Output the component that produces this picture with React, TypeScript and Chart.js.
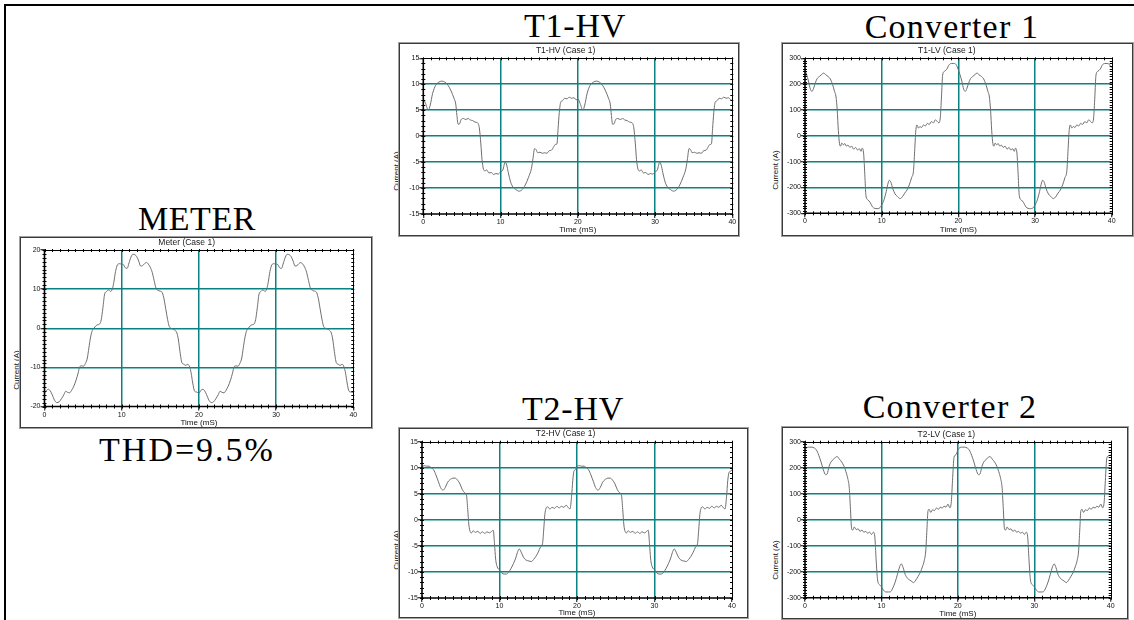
import { useEffect, useRef } from "react";
import { Chart, registerables } from "chart.js";

Chart.register(...registerables);

const SANS = '"Liberation Sans", Arial, Helvetica, sans-serif';
const SERIF = '"Liberation Serif", "Times New Roman", serif';
const TEAL = "#0b8282";
const TRACE = "#6e6e6e";

type Pt = [number, number];

// ---- axis definitions ----
const TIME_RANGE = [0, 40];
const TIME_STEP = 10;
const TIME_MINOR = 1;
const METER_RANGE = [-20, 20, 10, 1];
const HV_RANGE = [-15, 15, 5, 1];
const LV_RANGE = [-300, 300, 100, 10];

// ---- waveforms: [time (mS), current (A)] ----
const METER_CURRENT: Pt[] = [
  [0, -16.6], [0.25, -15.9], [0.5, -15.6], [0.75, -16.0], [1.0, -17.0], [1.3, -18.4], [1.6, -19.0], [1.9, -18.8], [2.2, -18.0], [2.5, -17.0], [2.75, -16.1], [3.0, -16.4], [3.25, -16.5], [3.5, -15.9], [3.8, -14.8], [4.1, -13.2], [4.35, -11.5], [4.55, -9.9], [4.8, -9.6], [5.05, -9.7], [5.3, -9.0], [5.55, -7.6], [5.75, -5.0], [5.95, -2.5], [6.15, -0.8], [6.4, 0.0], [6.65, 0.6], [6.9, 0.9], [7.15, 1.1], [7.35, 2.2], [7.55, 5.0], [7.8, 8.8], [8.05, 9.4], [8.3, 9.8], [8.55, 9.4], [8.8, 10.1], [9.0, 12.0], [9.2, 14.5], [9.45, 16.2], [9.7, 16.5], [9.95, 16.4], [10.2, 16.3], [10.45, 15.5], [10.7, 15.3], [10.95, 16.7], [11.2, 18.2], [11.45, 18.9], [11.7, 18.8], [11.95, 18.3], [12.2, 17.2], [12.45, 15.9], [12.7, 16.0], [12.95, 16.5], [13.2, 16.8], [13.45, 16.4], [13.7, 15.6], [13.95, 14.3], [14.2, 12.2], [14.45, 10.2], [14.7, 9.7], [14.95, 9.5], [15.2, 9.3], [15.45, 7.8], [15.7, 5.0], [15.95, 2.2], [16.15, 0.5], [16.4, 0.0], [16.65, -0.2], [16.9, -0.5], [17.15, -1.2], [17.35, -3.0], [17.55, -6.0], [17.8, -8.8], [18.05, -9.2], [18.3, -9.5], [18.55, -9.2], [18.8, -9.9], [19.0, -11.5], [19.2, -14.0], [19.45, -16.1], [19.7, -16.3],
  [20.0, -16.6], [20.25, -15.9], [20.5, -15.6], [20.75, -16.0], [21.0, -17.0], [21.3, -18.4], [21.6, -19.0], [21.9, -18.8], [22.2, -18.0], [22.5, -17.0], [22.75, -16.1], [23.0, -16.4], [23.25, -16.5], [23.5, -15.9], [23.8, -14.8], [24.1, -13.2], [24.35, -11.5], [24.55, -9.9], [24.8, -9.6], [25.05, -9.7], [25.3, -9.0], [25.55, -7.6], [25.75, -5.0], [25.95, -2.5], [26.15, -0.8], [26.4, 0.0], [26.65, 0.6], [26.9, 0.9], [27.15, 1.1], [27.35, 2.2], [27.55, 5.0], [27.8, 8.8], [28.05, 9.4], [28.3, 9.8], [28.55, 9.4], [28.8, 10.1], [29.0, 12.0], [29.2, 14.5], [29.45, 16.2], [29.7, 16.5], [29.95, 16.4], [30.2, 16.3], [30.45, 15.5], [30.7, 15.3], [30.95, 16.7], [31.2, 18.2], [31.45, 18.9], [31.7, 18.8], [31.95, 18.3], [32.2, 17.2], [32.45, 15.9], [32.7, 16.0], [32.95, 16.5], [33.2, 16.8], [33.45, 16.4], [33.7, 15.6], [33.95, 14.3], [34.2, 12.2], [34.45, 10.2], [34.7, 9.7], [34.95, 9.5], [35.2, 9.3], [35.45, 7.8], [35.7, 5.0], [35.95, 2.2], [36.15, 0.5], [36.4, 0.0], [36.65, -0.2], [36.9, -0.5], [37.15, -1.2], [37.35, -3.0], [37.55, -6.0], [37.8, -8.8], [38.05, -9.2], [38.3, -9.5], [38.55, -9.2], [38.8, -9.9], [39.0, -11.5], [39.2, -14.0], [39.45, -16.1], [39.7, -16.3], [40.0, -16.4],
];

const T1HV_CURRENT: Pt[] = [
  [0, 7.2], [0.3, 6.3], [0.65, 5.0], [0.9, 6.0], [1.2, 8.2], [1.6, 9.8], [2.0, 10.4], [2.4, 10.6], [2.8, 10.4], [3.2, 9.8], [3.6, 8.7], [4.0, 7.2], [4.2, 6.2], [4.35, 4.0], [4.5, 2.3], [4.7, 2.4], [4.9, 3.2], [5.2, 3.4], [5.5, 3.2], [5.8, 3.4], [6.1, 3.1], [6.4, 3.0], [6.7, 2.7], [7.0, 2.6], [7.25, 1.6], [7.45, -1.5], [7.6, -4.5], [7.8, -6.4], [8.0, -6.7], [8.2, -6.5], [8.5, -7.1], [8.8, -7.0], [9.1, -7.4], [9.4, -7.2], [9.7, -7.3], [10.0, -6.9], [10.3, -6.5], [10.6, -5.0], [10.8, -5.6], [11.0, -7.0], [11.3, -8.8], [11.6, -9.8], [12.0, -10.3], [12.4, -10.6], [12.8, -10.3], [13.2, -9.4], [13.6, -8.0], [14.0, -6.2], [14.2, -4.3], [14.4, -2.4], [14.6, -2.6], [14.8, -3.2], [15.1, -3.1], [15.4, -3.3], [15.7, -3.2], [16.0, -3.3], [16.3, -2.8], [16.6, -2.7], [16.9, -2.0], [17.1, -1.6], [17.3, -1.5], [17.45, 1.5], [17.6, 4.5], [17.8, 6.6], [18.0, 6.8], [18.3, 7.3], [18.6, 7.2], [18.9, 7.5], [19.2, 7.3], [19.5, 7.4], [19.8, 7.0],
  [20.0, 7.2], [20.3, 6.3], [20.65, 5.0], [20.9, 6.0], [21.2, 8.2], [21.6, 9.8], [22.0, 10.4], [22.4, 10.6], [22.8, 10.4], [23.2, 9.8], [23.6, 8.7], [24.0, 7.2], [24.2, 6.2], [24.35, 4.0], [24.5, 2.3], [24.7, 2.4], [24.9, 3.2], [25.2, 3.4], [25.5, 3.2], [25.8, 3.4], [26.1, 3.1], [26.4, 3.0], [26.7, 2.7], [27.0, 2.6], [27.25, 1.6], [27.45, -1.5], [27.6, -4.5], [27.8, -6.4], [28.0, -6.7], [28.2, -6.5], [28.5, -7.1], [28.8, -7.0], [29.1, -7.4], [29.4, -7.2], [29.7, -7.3], [30.0, -6.9], [30.3, -6.5], [30.6, -5.0], [30.8, -5.6], [31.0, -7.0], [31.3, -8.8], [31.6, -9.8], [32.0, -10.3], [32.4, -10.6], [32.8, -10.3], [33.2, -9.4], [33.6, -8.0], [34.0, -6.2], [34.2, -4.3], [34.4, -2.4], [34.6, -2.6], [34.8, -3.2], [35.1, -3.1], [35.4, -3.3], [35.7, -3.2], [36.0, -3.3], [36.3, -2.8], [36.6, -2.7], [36.9, -2.0], [37.1, -1.6], [37.3, -1.5], [37.45, 1.5], [37.6, 4.5], [37.8, 6.6], [38.0, 6.8], [38.3, 7.3], [38.6, 7.2], [38.9, 7.5], [39.2, 7.3], [39.5, 7.4], [39.8, 7.0], [40.0, 6.9],
];

const T2HV_CURRENT: Pt[] = [
  [0, 10.2], [0.3, 10.4], [0.6, 10.3], [0.9, 10.3], [1.2, 10.0], [1.5, 9.6], [1.8, 8.6], [2.1, 7.4], [2.4, 6.2], [2.7, 5.7], [3.0, 6.2], [3.3, 7.2], [3.6, 7.7], [4.0, 8.0], [4.3, 8.0], [4.6, 7.6], [4.9, 6.9], [5.2, 5.8], [5.5, 5.2], [5.75, 4.6], [5.9, 2.0], [6.05, -1.0], [6.2, -2.2], [6.4, -2.5], [6.6, -2.1], [6.9, -2.4], [7.2, -2.2], [7.5, -2.6], [7.8, -2.3], [8.1, -2.6], [8.4, -2.3], [8.7, -2.5], [9.0, -2.2], [9.2, -2.0], [9.35, -4.5], [9.5, -7.5], [9.7, -9.0], [10.0, -9.6], [10.3, -10.2], [10.6, -10.4], [10.9, -10.4], [11.2, -10.0], [11.5, -9.3], [11.8, -8.4], [12.1, -7.3], [12.3, -6.3], [12.55, -5.6], [12.8, -6.2], [13.1, -7.2], [13.4, -7.7], [13.8, -7.9], [14.1, -8.0], [14.4, -7.6], [14.7, -7.0], [15.0, -6.2], [15.3, -5.2], [15.55, -4.6], [15.7, -2.0], [15.85, 1.0], [16.0, 2.2], [16.2, 2.5], [16.5, 2.1], [16.8, 2.4], [17.1, 2.2], [17.4, 2.6], [17.7, 2.3], [18.0, 2.6], [18.3, 2.4], [18.6, 2.8], [18.9, 2.3], [19.1, 2.1], [19.3, 4.5], [19.45, 7.5], [19.6, 9.3], [19.85, 9.7],
  [20.0, 10.2], [20.3, 10.4], [20.6, 10.3], [20.9, 10.3], [21.2, 10.0], [21.5, 9.6], [21.8, 8.6], [22.1, 7.4], [22.4, 6.2], [22.7, 5.7], [23.0, 6.2], [23.3, 7.2], [23.6, 7.7], [24.0, 8.0], [24.3, 8.0], [24.6, 7.6], [24.9, 6.9], [25.2, 5.8], [25.5, 5.2], [25.75, 4.6], [25.9, 2.0], [26.05, -1.0], [26.2, -2.2], [26.4, -2.5], [26.6, -2.1], [26.9, -2.4], [27.2, -2.2], [27.5, -2.6], [27.8, -2.3], [28.1, -2.6], [28.4, -2.3], [28.7, -2.5], [29.0, -2.2], [29.2, -2.0], [29.35, -4.5], [29.5, -7.5], [29.7, -9.0], [30.0, -9.6], [30.3, -10.2], [30.6, -10.4], [30.9, -10.4], [31.2, -10.0], [31.5, -9.3], [31.8, -8.4], [32.1, -7.3], [32.3, -6.3], [32.55, -5.6], [32.8, -6.2], [33.1, -7.2], [33.4, -7.7], [33.8, -7.9], [34.1, -8.0], [34.4, -7.6], [34.7, -7.0], [35.0, -6.2], [35.3, -5.2], [35.55, -4.6], [35.7, -2.0], [35.85, 1.0], [36.0, 2.2], [36.2, 2.5], [36.5, 2.1], [36.8, 2.4], [37.1, 2.2], [37.4, 2.6], [37.7, 2.3], [38.0, 2.6], [38.3, 2.4], [38.6, 2.8], [38.9, 2.3], [39.1, 2.1], [39.3, 4.5], [39.45, 7.5], [39.6, 9.0], [39.85, 9.4], [40.0, 9.6],
];

const T1LV_CURRENT: Pt[] = [
  [0, 255], [0.2, 238], [0.45, 212], [0.7, 180], [0.9, 172], [1.1, 182], [1.35, 205], [1.6, 222], [1.9, 230], [2.2, 238], [2.45, 243], [2.7, 236], [3.0, 230], [3.3, 220], [3.6, 198], [3.85, 172], [4.05, 150], [4.2, 100], [4.35, 20], [4.5, -30], [4.65, -40], [4.8, -28], [5.0, -35], [5.2, -30], [5.4, -40], [5.6, -36], [5.85, -45], [6.1, -40], [6.35, -52], [6.6, -45], [6.85, -55], [7.1, -50], [7.3, -60], [7.45, -48], [7.65, -70], [7.8, -150], [7.95, -232], [8.2, -248], [8.5, -258], [8.8, -275], [9.1, -281], [9.4, -282], [9.7, -280], [10.0, -268], [10.3, -248], [10.6, -215], [10.85, -182], [11.0, -172], [11.2, -180], [11.45, -205], [11.75, -225], [12.05, -235], [12.4, -243], [12.7, -236], [13.0, -222], [13.3, -210], [13.6, -190], [13.9, -162], [14.15, -135], [14.3, -60], [14.45, 20], [14.6, 42], [14.8, 30], [15.0, 36], [15.2, 32], [15.45, 42], [15.7, 38], [15.95, 48], [16.2, 44], [16.5, 55], [16.75, 50], [17.0, 62], [17.25, 55], [17.45, 50], [17.65, 72], [17.8, 150], [17.95, 235], [18.2, 250], [18.5, 258], [18.8, 275], [19.1, 280], [19.4, 280], [19.7, 276],
  [20.0, 255], [20.2, 238], [20.45, 212], [20.7, 180], [20.9, 172], [21.1, 182], [21.35, 205], [21.6, 222], [21.9, 230], [22.2, 238], [22.45, 243], [22.7, 236], [23.0, 230], [23.3, 220], [23.6, 198], [23.85, 172], [24.05, 150], [24.2, 100], [24.35, 20], [24.5, -30], [24.65, -40], [24.8, -28], [25.0, -35], [25.2, -30], [25.4, -40], [25.6, -36], [25.85, -45], [26.1, -40], [26.35, -52], [26.6, -45], [26.85, -55], [27.1, -50], [27.3, -60], [27.45, -48], [27.65, -70], [27.8, -150], [27.95, -232], [28.2, -248], [28.5, -258], [28.8, -275], [29.1, -281], [29.4, -282], [29.7, -280], [30.0, -268], [30.3, -248], [30.6, -215], [30.85, -182], [31.0, -172], [31.2, -180], [31.45, -205], [31.75, -225], [32.05, -235], [32.4, -243], [32.7, -236], [33.0, -222], [33.3, -210], [33.6, -190], [33.9, -162], [34.15, -135], [34.3, -60], [34.45, 20], [34.6, 42], [34.8, 30], [35.0, 36], [35.2, 32], [35.45, 42], [35.7, 38], [35.95, 48], [36.2, 44], [36.5, 55], [36.75, 50], [37.0, 62], [37.25, 55], [37.45, 50], [37.65, 72], [37.8, 150], [37.95, 235], [38.2, 250], [38.5, 258], [38.8, 275], [39.1, 280], [39.4, 280], [39.7, 276], [40.0, 262],
];

const T2LV_CURRENT: Pt[] = [
  [0, 268], [0.3, 278], [0.6, 279], [0.9, 279], [1.2, 276], [1.5, 268], [1.8, 248], [2.1, 222], [2.4, 192], [2.7, 173], [2.9, 176], [3.15, 205], [3.4, 222], [3.7, 232], [4.0, 240], [4.2, 243], [4.5, 233], [4.8, 222], [5.1, 206], [5.35, 185], [5.6, 158], [5.8, 120], [5.95, 40], [6.1, -35], [6.25, -40], [6.45, -28], [6.7, -38], [6.95, -35], [7.2, -45], [7.45, -40], [7.7, -48], [7.95, -45], [8.2, -52], [8.45, -48], [8.7, -57], [8.95, -48], [9.15, -70], [9.3, -150], [9.5, -232], [9.75, -250], [10.0, -258], [10.3, -272], [10.6, -278], [10.9, -278], [11.2, -277], [11.5, -262], [11.8, -240], [12.1, -210], [12.4, -180], [12.6, -170], [12.85, -185], [13.1, -210], [13.4, -225], [13.7, -232], [14.0, -238], [14.2, -242], [14.5, -232], [14.8, -218], [15.1, -202], [15.35, -182], [15.6, -158], [15.8, -120], [15.95, -40], [16.1, 35], [16.25, 40], [16.45, 28], [16.7, 38], [16.95, 35], [17.2, 45], [17.45, 40], [17.7, 48], [17.95, 45], [18.2, 52], [18.45, 48], [18.7, 60], [18.95, 46], [19.15, 70], [19.3, 150], [19.5, 240], [19.75, 250],
  [20.0, 268], [20.3, 278], [20.6, 279], [20.9, 279], [21.2, 276], [21.5, 268], [21.8, 248], [22.1, 222], [22.4, 192], [22.7, 173], [22.9, 176], [23.15, 205], [23.4, 222], [23.7, 232], [24.0, 240], [24.2, 243], [24.5, 233], [24.8, 222], [25.1, 206], [25.35, 185], [25.6, 158], [25.8, 120], [25.95, 40], [26.1, -35], [26.25, -40], [26.45, -28], [26.7, -38], [26.95, -35], [27.2, -45], [27.45, -40], [27.7, -48], [27.95, -45], [28.2, -52], [28.45, -48], [28.7, -57], [28.95, -48], [29.15, -70], [29.3, -150], [29.5, -232], [29.75, -250], [30.0, -258], [30.3, -272], [30.6, -278], [30.9, -278], [31.2, -277], [31.5, -262], [31.8, -240], [32.1, -210], [32.4, -180], [32.6, -170], [32.85, -185], [33.1, -210], [33.4, -225], [33.7, -232], [34.0, -238], [34.2, -242], [34.5, -232], [34.8, -218], [35.1, -202], [35.35, -182], [35.6, -158], [35.8, -120], [35.95, -40], [36.1, 35], [36.25, 40], [36.45, 28], [36.7, 38], [36.95, 35], [37.2, 45], [37.45, 40], [37.7, 48], [37.95, 45], [38.2, 52], [38.45, 48], [38.7, 60], [38.95, 46], [39.15, 70], [39.3, 150], [39.5, 238], [39.75, 246], [40.0, 250],
];

// ---- layout of each scope panel (pixels) ----
type Box = {
  left: number; top: number; width: number; height: number;
  padL: number; padR: number; padT: number; padB: number;
  titleC: number; xTitleB: number;
};

const BOX_METER: Box = { left: 20, top: 237, width: 352, height: 191, padL: 24.5, padR: 18.7, padT: 13, padB: 21.5, titleC: 5.7, xTitleB: 5.3 };
const BOX_T1HV: Box = { left: 399, top: 43, width: 340, height: 193, padL: 24.3, padR: 6.7, padT: 15.3, padB: 22, titleC: 7.7, xTitleB: 6 };
const BOX_T2HV: Box = { left: 399, top: 428, width: 349, height: 190, padL: 23, padR: 16, padT: 13.7, padB: 20, titleC: 6, xTitleB: 4.8 };
const BOX_T1LV: Box = { left: 782, top: 43, width: 351, height: 193, padL: 23, padR: 21.3, padT: 15.3, padB: 22.7, titleC: 7.7, xTitleB: 6 };
const BOX_T2LV: Box = { left: 782, top: 427, width: 346, height: 192, padL: 23, padR: 17.3, padT: 14.7, padB: 21.3, titleC: 7.3, xTitleB: 5.7 };

function makeFramePlugin(yMinor: number) {
  return {
    id: "scopeFrame",
    afterDatasetsDraw(chart: any) {
      const { ctx, chartArea, scales } = chart;
      const { left, right, top, bottom } = chartArea;
      const xs = scales.x;
      const ys = scales.y;
      ctx.save();
      ctx.strokeStyle = "#000";
      ctx.lineWidth = 1;
      ctx.beginPath();
      for (let v = xs.min; v <= xs.max + 1e-9; v += TIME_MINOR) {
        const px = Math.round(xs.getPixelForValue(v)) + 0.5;
        ctx.moveTo(px, bottom - 2);
        ctx.lineTo(px, bottom + 2);
        ctx.moveTo(px, top - 1);
        ctx.lineTo(px, top + 2);
      }
      for (let v = ys.min; v <= ys.max + 1e-9; v += yMinor) {
        const py = Math.round(ys.getPixelForValue(v)) + 0.5;
        ctx.moveTo(left - 2, py);
        ctx.lineTo(left + 2, py);
        ctx.moveTo(right - 2, py);
        ctx.lineTo(right + 1, py);
      }
      ctx.stroke();
      const T = Math.round(top) + 0.5;
      const R = Math.round(right) + 0.5;
      ctx.beginPath();
      ctx.moveTo(left, T);
      ctx.lineTo(right, T);
      ctx.moveTo(R, top);
      ctx.lineTo(R, bottom);
      ctx.stroke();
      ctx.lineWidth = 1.6;
      ctx.beginPath();
      ctx.moveTo(left, top);
      ctx.lineTo(left, bottom);
      ctx.lineTo(right, bottom);
      ctx.stroke();
      ctx.restore();
    },
  };
}

function ScopeChart(props: { title: string; points: Pt[]; range: number[]; box: Box }) {
  const { title, points, range, box } = props;
  const ref = useRef<HTMLCanvasElement>(null);

  useEffect(() => {
    const [yMin, yMax, yStep, yMinor] = range;
    const tPadTop = box.titleC - 5.1;
    const tPadBottom = Math.max(0, box.padT - 10.2 - tPadTop);
    const gridColor = (lo: number, hi: number) => (c: any) =>
      c.tick && (c.tick.value === lo || c.tick.value === hi) ? "rgba(0,0,0,0)" : TEAL;

    const chart = new Chart(ref.current as HTMLCanvasElement, {
      type: "line",
      data: {
        datasets: [
          {
            data: points.map(([x, y]) => ({ x, y })),
            borderColor: TRACE,
            borderWidth: 1,
            pointRadius: 0,
            fill: false,
            cubicInterpolationMode: "monotone",
          } as any,
        ],
      },
      options: {
        animation: false,
        responsive: false,
        maintainAspectRatio: false,
        events: [],
        layout: { padding: { left: 0, right: box.padR, top: 0, bottom: 0 } },
        plugins: {
          legend: { display: false },
          tooltip: { enabled: false },
          title: {
            display: true,
            text: title,
            color: "#1a1a1a",
            font: { family: SANS, size: 8.5, weight: "normal", lineHeight: 1.2 },
            padding: { top: tPadTop, bottom: tPadBottom },
          },
        },
        scales: {
          x: {
            type: "linear",
            min: TIME_RANGE[0],
            max: TIME_RANGE[1],
            ticks: { stepSize: TIME_STEP, color: "#111", font: { family: SANS, size: 7 }, padding: 0, maxRotation: 0, autoSkip: false },
            grid: { color: gridColor(TIME_RANGE[0], TIME_RANGE[1]), lineWidth: 1.5, drawTicks: true, tickLength: 4, tickColor: "#000", tickWidth: 1 },
            border: { display: false },
            title: { display: true, text: "Time (mS)", color: "#111", font: { family: SANS, size: 8 }, padding: { top: 0, bottom: Math.max(0, box.xTitleB - 4.8) } },
            afterFit: (s: any) => {
              s.height = box.padB;
              s.paddingLeft = 0;
              s.paddingRight = 0;
            },
          },
          y: {
            type: "linear",
            min: yMin,
            max: yMax,
            ticks: { stepSize: yStep, color: "#111", font: { family: SANS, size: 7 }, padding: 0, autoSkip: false },
            grid: { color: gridColor(yMin, yMax), lineWidth: 1.5, drawTicks: true, tickLength: 4, tickColor: "#000", tickWidth: 1 },
            border: { display: false },
            afterFit: (s: any) => {
              s.width = box.padL;
              s.paddingTop = 0;
              s.paddingBottom = 0;
            },
          },
        },
      } as any,
      plugins: [makeFramePlugin(yMinor)],
    });
    return () => chart.destroy();
  }, []);

  return (
    <>
      <div
        style={{
          position: "absolute",
          left: box.left,
          top: box.top,
          width: box.width,
          height: box.height,
          boxSizing: "border-box",
          border: "1px solid #3a3a3a",
          boxShadow: "0 0 0 1px #a0a0a0",
          background: "#fff",
        }}
      />
      <canvas
        ref={ref}
        width={box.width}
        height={box.height}
        style={{ position: "absolute", left: box.left, top: box.top, width: box.width, height: box.height }}
      />
    </>
  );
}

function Heading(props: { text: string; cx: number; cy: number; spacing?: number }) {
  return (
    <div
      style={{
        position: "absolute",
        left: props.cx - 200,
        top: props.cy - 17,
        width: 400,
        textAlign: "center",
        fontFamily: SERIF,
        fontSize: 34,
        lineHeight: "34px",
        letterSpacing: props.spacing ? `${props.spacing}px` : undefined,
        color: "#000",
        whiteSpace: "nowrap",
      }}
    >
      {props.text}
    </div>
  );
}

function YTitle(props: { cx: number; cy: number }) {
  return (
    <div
      style={{
        position: "absolute",
        left: props.cx,
        top: props.cy,
        transform: "translate(-50%, -50%) rotate(-90deg)",
        fontFamily: SANS,
        fontSize: 8,
        lineHeight: "9px",
        color: "#111",
        whiteSpace: "nowrap",
      }}
    >
      Current (A)
    </div>
  );
}

export default function App() {
  return (
    <div style={{ position: "fixed", left: 0, top: 0, width: 1134, height: 620, background: "#fff", overflow: "hidden" }}>
      <div style={{ position: "absolute", left: 4, top: 4, width: 1200, height: 700, borderLeft: "2px solid #000", borderTop: "2px solid #000" }} />

      <Heading text="T1-HV" cx={575} cy={26} spacing={0.8} />
      <Heading text="Converter 1" cx={952} cy={27} spacing={1.2} />
      <Heading text="METER" cx={197} cy={219} spacing={0.6} />
      <Heading text="THD=9.5%" cx={187} cy={450} spacing={2} />
      <Heading text="T2-HV" cx={573} cy={409} spacing={0.8} />
      <Heading text="Converter 2" cx={950} cy={407} spacing={1.2} />

      <YTitle cx={16} cy={370} />
      <YTitle cx={396} cy={171} />
      <YTitle cx={775} cy={170} />
      <YTitle cx={396} cy={550} />
      <YTitle cx={775} cy={560} />

      <ScopeChart title="Meter (Case 1)" points={METER_CURRENT} range={METER_RANGE} box={BOX_METER} />
      <ScopeChart title="T1-HV (Case 1)" points={T1HV_CURRENT} range={HV_RANGE} box={BOX_T1HV} />
      <ScopeChart title="T1-LV (Case 1)" points={T1LV_CURRENT} range={LV_RANGE} box={BOX_T1LV} />
      <ScopeChart title="T2-HV (Case 1)" points={T2HV_CURRENT} range={HV_RANGE} box={BOX_T2HV} />
      <ScopeChart title="T2-LV (Case 1)" points={T2LV_CURRENT} range={LV_RANGE} box={BOX_T2LV} />
    </div>
  );
}
